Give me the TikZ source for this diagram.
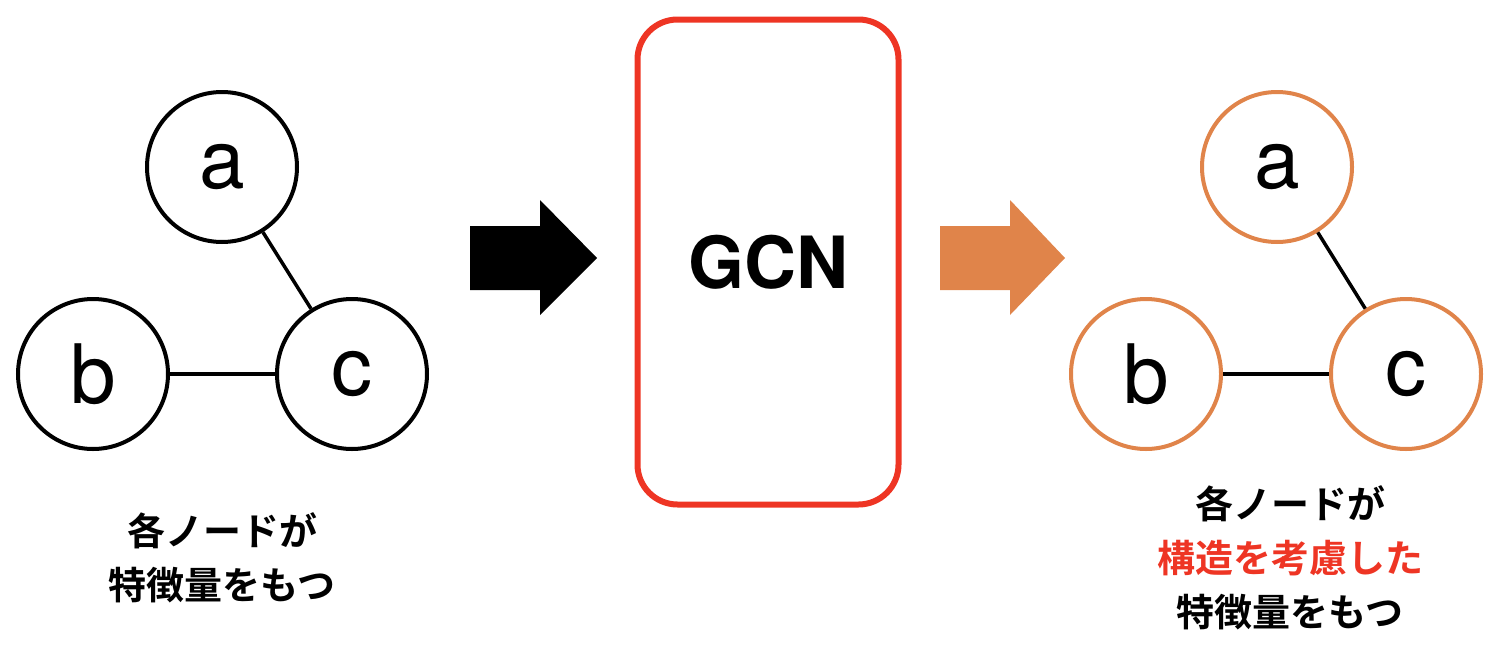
\documentclass[tikz,border=0pt]{standalone}
\usepackage{fontspec}
\setsansfont{TeX Gyre Heros}
\newfontfamily\cjk{Noto Sans CJK JP}[BoldFont={Noto Sans CJK JP Bold}]
\definecolor{org}{HTML}{E0844A}
\definecolor{rd}{HTML}{EE3524}
\begin{document}
\begin{tikzpicture}[x=1pt,y=-1pt,
  gnode/.style={circle,draw,line width=4pt,minimum size=150pt,inner sep=0pt,font=\sffamily\fontsize{82}{82}\selectfont},
  edge/.style={line width=3.5pt},
  lbl/.style={font=\cjk\bfseries\fontsize{38}{54}\selectfont,align=center}]
\useasboundingbox (0,0) rectangle (1494,656);
\node[gnode] (a) at (222,167) {a};
\node[gnode] (b) at (93,374) {b};
\node[gnode] (c) at (352,374) {c};
\draw[edge] (a) -- (c);
\draw[edge] (b) -- (c);
\node[lbl] (l1) at (222,558) {各ノードが\\特徴量をもつ};
\fill (470,226) -- (540,226) -- (540,200) -- (597,258) -- (540,315) -- (540,290) -- (470,290) -- cycle;
\node[draw=rd,line width=6pt,rounded corners=40pt,minimum width=261pt,minimum height=485pt] (g) at (768,262) {};
\node[font=\sffamily\bfseries\fontsize{72}{72}\selectfont] (gt) at (768,262) {GCN};
\fill[org] (940,226) -- (1010,226) -- (1010,200) -- (1065,258) -- (1010,315) -- (1010,290) -- (940,290) -- cycle;
\node[gnode,draw=org] (a2) at (1277,167) {a};
\node[gnode,draw=org] (b2) at (1146,374) {b};
\node[gnode,draw=org] (c2) at (1406,374) {c};
\draw[edge] (a2) -- (c2);
\draw[edge] (b2) -- (c2);
\node[lbl] (l2) at (1290,558) {各ノードが\\\textcolor{rd}{構造を考慮した}\\特徴量をもつ};
\end{tikzpicture}
\end{document}
